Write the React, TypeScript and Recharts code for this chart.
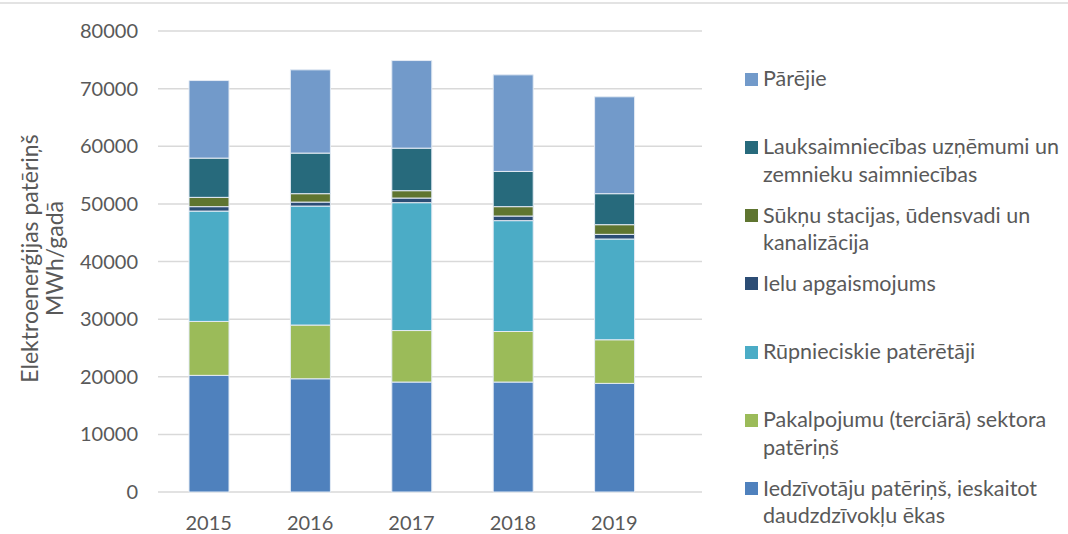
import React from 'react';
import { BarChart, Bar, XAxis, YAxis, CartesianGrid, Label } from 'recharts';

const years = ['2015', '2016', '2017', '2018', '2019'];

// MWh/gadā, stacked from the bottom up
const iedzivotaji = [20240, 19650, 19080, 19080, 18850];
const pakalpojumi = [9360, 9320, 8940, 8770, 7570];
const rupnieciskie = [19150, 20650, 22190, 19240, 17480];
const ieluApgaismojums = [770, 690, 800, 800, 810];
const suknuStacijas = [1610, 1460, 1280, 1630, 1680];
const lauksaimniecibas = [6810, 7040, 7380, 6110, 5380];
const pareji = [13460, 14450, 15200, 16760, 16810];

const yTicks = [0, 10000, 20000, 30000, 40000, 50000, 60000, 70000, 80000];

const series = [
  { key: 'iedz', name: 'Iedzīvotāju patēriņš, ieskaitot daudzdzīvokļu ēkas', color: '#4F81BD', values: iedzivotaji },
  { key: 'pakalp', name: 'Pakalpojumu (terciārā) sektora patēriņš', color: '#9BBB59', values: pakalpojumi },
  { key: 'rupn', name: 'Rūpnieciskie patērētāji', color: '#4BACC6', values: rupnieciskie },
  { key: 'ielu', name: 'Ielu apgaismojums', color: '#2C4D75', values: ieluApgaismojums },
  { key: 'suknu', name: 'Sūkņu stacijas, ūdensvadi un kanalizācija', color: '#5F7530', values: suknuStacijas },
  { key: 'lauks', name: 'Lauksaimniecības uzņēmumi un zemnieku saimniecības', color: '#276A7C', values: lauksaimniecibas },
  { key: 'pareji', name: 'Pārējie', color: '#729ACA', values: pareji },
];

const data = years.map((year, i) => {
  const row: Record<string, string | number> = { year };
  series.forEach((s) => {
    row[s.key] = s.values[i];
  });
  return row;
});

const FONT = 'Lato, "Noto Sans", "DejaVu Sans", sans-serif';
const TEXT = '#595959';

function AxisTitle(props: any) {
  const vb = props.viewBox || { x: 0, y: 0, width: 0, height: 0 };
  const cy = vb.y + vb.height / 2 - 3;
  return (
    <g fill={TEXT} fontSize={23} fontFamily={FONT}>
      <text x={29} y={cy} textAnchor="middle" dominantBaseline="central" transform={`rotate(-90 29 ${cy})`}>
        Elektroenerģijas patēriņš
      </text>
      <text x={54} y={cy} textAnchor="middle" dominantBaseline="central" transform={`rotate(-90 54 ${cy})`}>
        MWh/gadā
      </text>
    </g>
  );
}

function ChartLegend() {
  return (
    <div style={{ position: 'absolute', left: 745, top: 65, width: 323, fontFamily: FONT, fontSize: 21.5, color: TEXT }}>
      {[...series].reverse().map((s) => (
        <div key={s.key} style={{ height: 68.3, display: 'flex', alignItems: 'flex-start' }}>
          <span style={{ width: 13, height: 13, background: s.color, marginTop: 7.5, flex: '0 0 13px' }} />
          <span style={{ marginLeft: 5, lineHeight: '27.3px' }}>{s.name}</span>
        </div>
      ))}
    </div>
  );
}

export default function App() {
  return (
    <div style={{ position: 'absolute', left: 0, top: 0, width: 1068, height: 534, background: '#fff', fontFamily: FONT }}>
      <div style={{ position: 'absolute', left: 0, top: 2, width: 1068, height: 1.5, background: '#e3e3e3' }} />
      <BarChart
        width={1068}
        height={534}
        data={data}
        margin={{ top: 31, right: 366, bottom: 0, left: 0 }}
        style={{ fontFamily: FONT }}
      >
        <CartesianGrid vertical={false} stroke="#d9d9d9" strokeWidth={1.5} />
        <XAxis
          dataKey="year"
          height={42}
          axisLine={false}
          tickLine={false}
          tickSize={0}
          tickMargin={24}
          padding={{ left: 0, right: 37 }}
          tick={{ fill: TEXT, fontSize: 20 }}
        />
        <YAxis
          width={158}
          domain={[0, 80000]}
          ticks={yTicks}
          axisLine={false}
          tickLine={false}
          tickSize={0}
          tickMargin={20}
          tick={{ fill: TEXT, fontSize: 20 }}
        >
          <Label content={<AxisTitle />} />
        </YAxis>
        {series.map((s) => (
          <Bar
            key={s.key}
            dataKey={s.key}
            name={s.name}
            stackId="a"
            fill={s.color}
            stroke="#e4ebf4"
            strokeWidth={1}
            barSize={40}
            isAnimationActive={false}
          />
        ))}
      </BarChart>
      <ChartLegend />
    </div>
  );
}
